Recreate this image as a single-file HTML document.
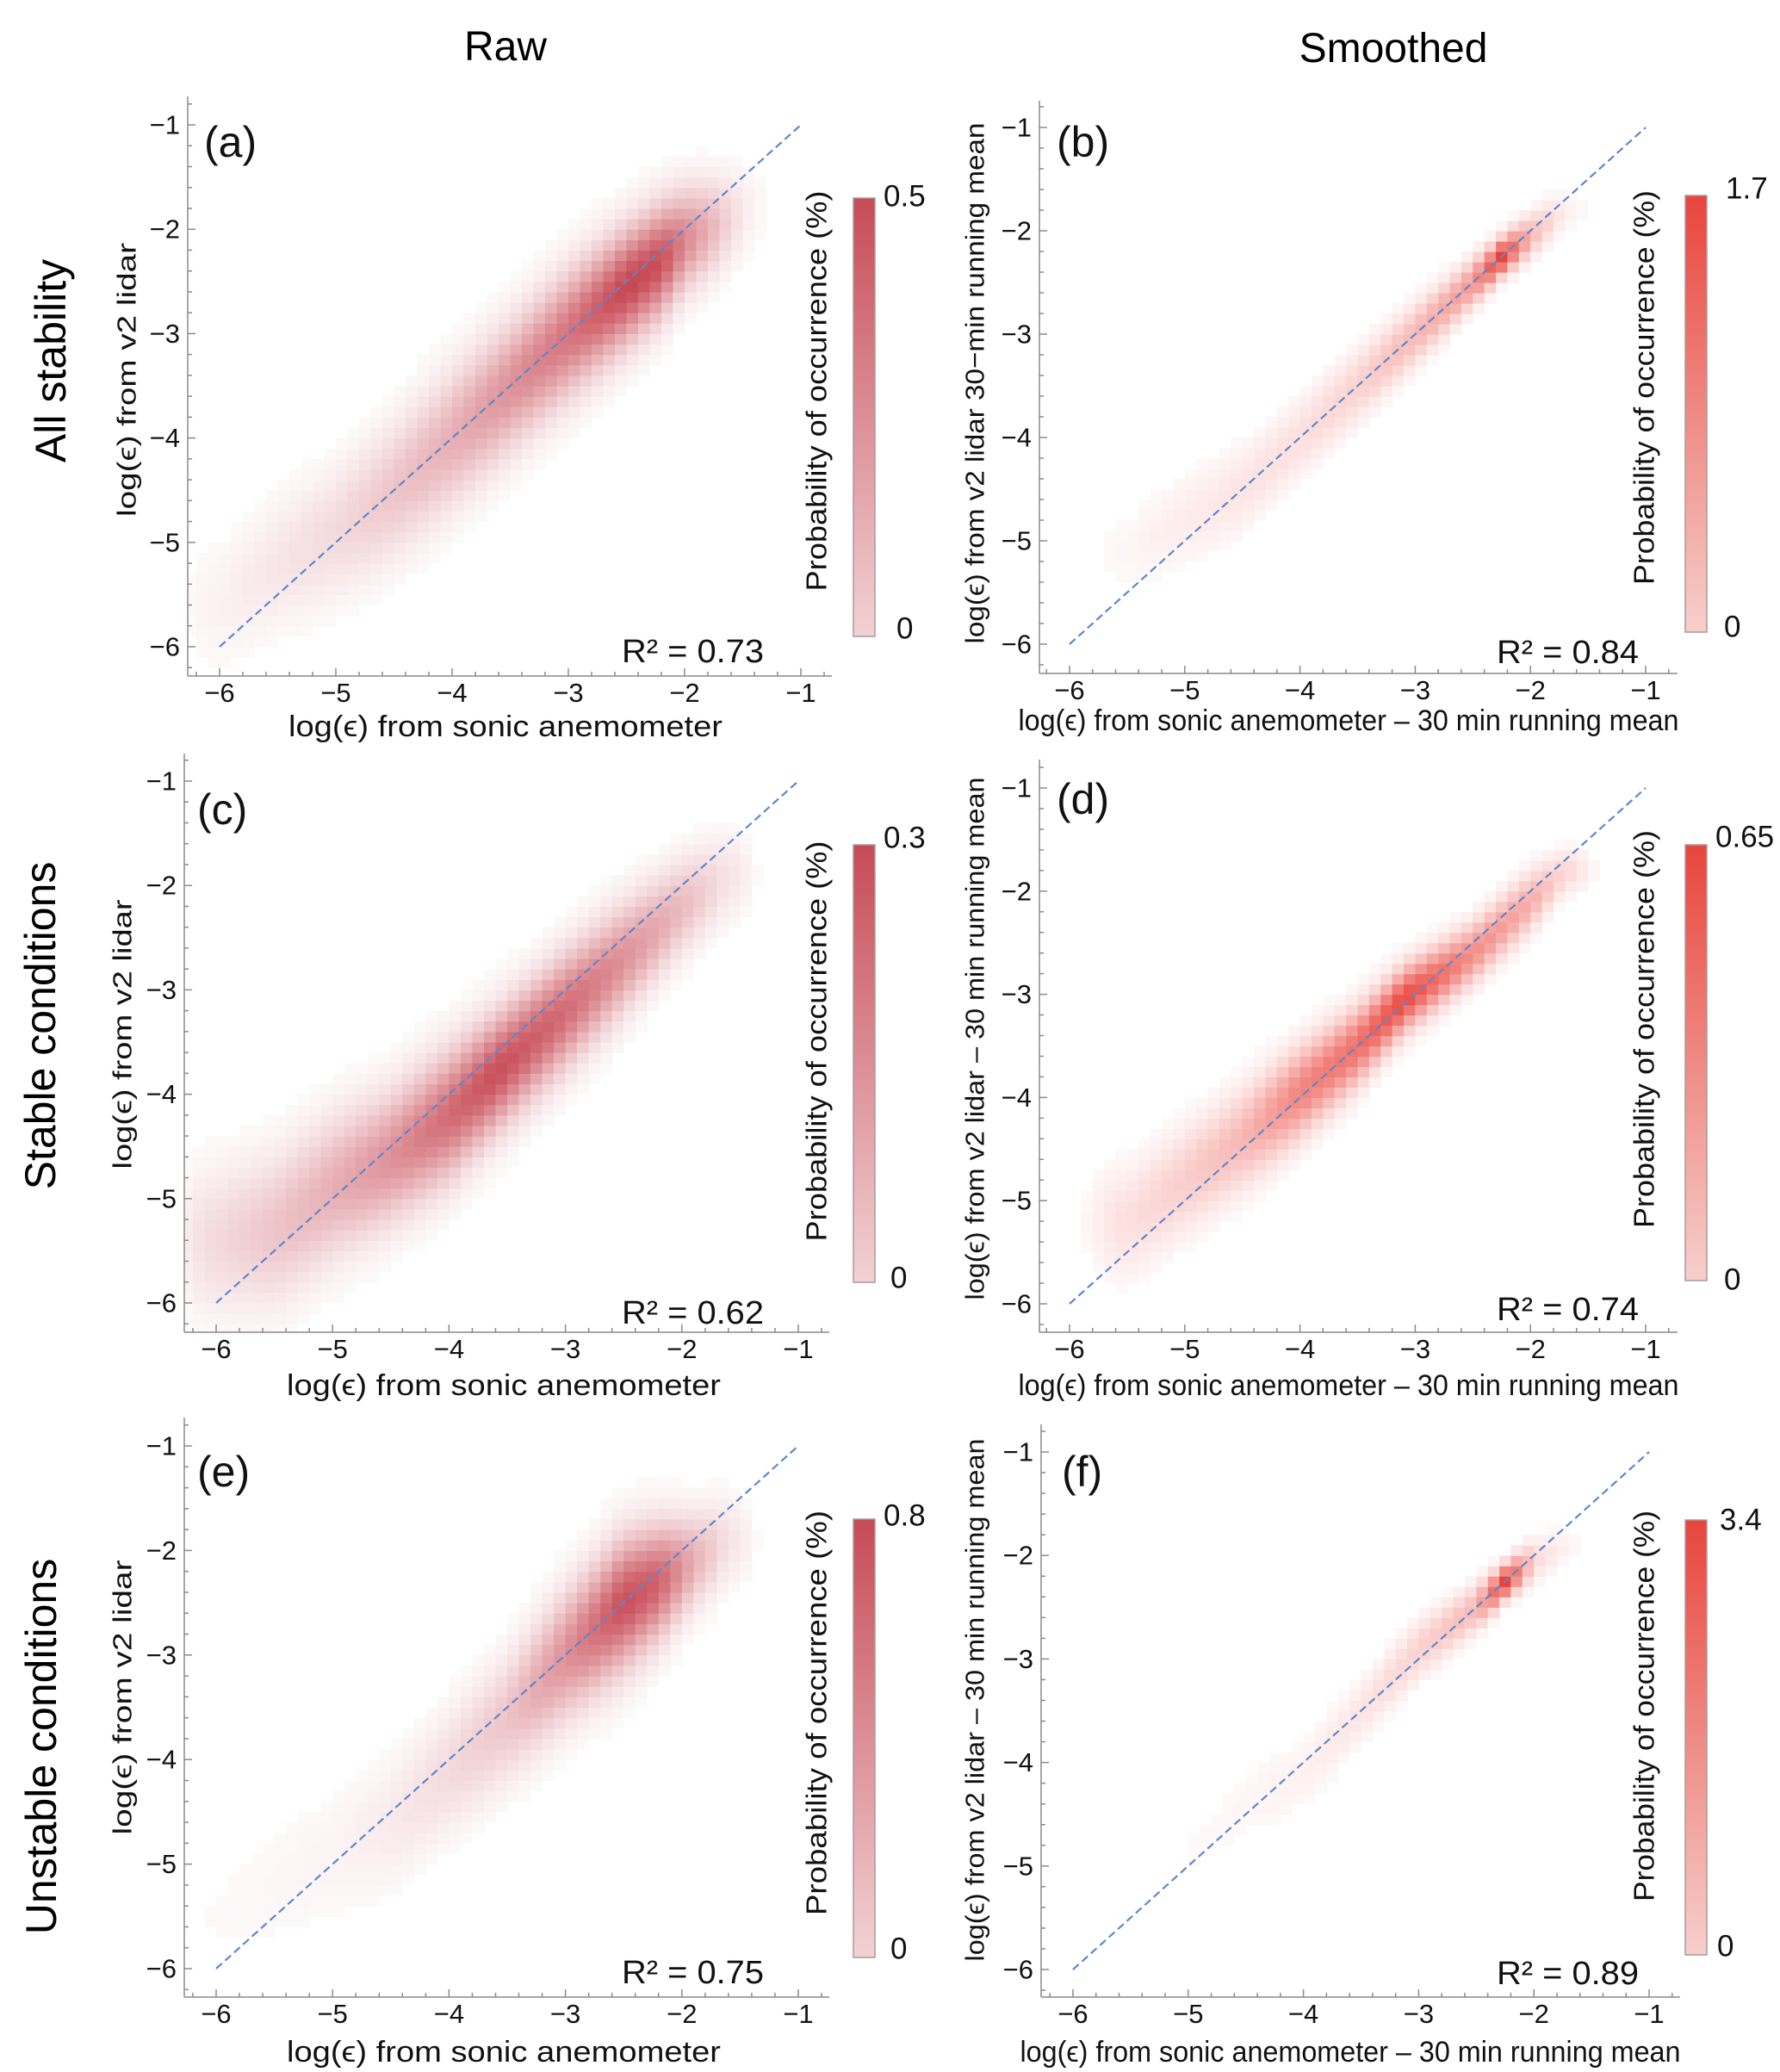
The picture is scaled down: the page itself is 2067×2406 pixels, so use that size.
<!DOCTYPE html>
<html><head><meta charset="utf-8"><title>Lidar vs sonic dissipation heatmaps</title>
<style>
html,body{margin:0;padding:0;background:#fff;}
svg{display:block;font-family:"Liberation Sans","DejaVu Sans",sans-serif;}
</style></head>
<body>
<svg id="fig" xmlns="http://www.w3.org/2000/svg" width="2067" height="2406" viewBox="0 0 2067 2406">
<rect x="0" y="0" width="2067" height="2406" fill="#fff"/>
<text x="587" y="70" font-size="48" text-anchor="middle">Raw</text>
<text x="1618" y="72" font-size="48" text-anchor="middle">Smoothed</text>
<text transform="translate(59,419) rotate(-90)" font-size="50" text-anchor="middle" dominant-baseline="central">All stability</text>
<text transform="translate(47,1191) rotate(-90)" font-size="50" text-anchor="middle" dominant-baseline="central">Stable conditions</text>
<text transform="translate(48,2028) rotate(-90)" font-size="50" text-anchor="middle" dominant-baseline="central">Unstable conditions</text>
<g id="panels"></g>
</svg>
<script>
// ---- data (ridge of each 2D histogram) ----
const ridgeX_a  = [-6.0,-5.5,-5.0,-4.5,-4.0,-3.5,-3.0,-2.5,-2.2,-2.0,-1.6,-1.4];
const ridgeY_a  = [-5.6,-5.2,-4.9,-4.5,-4.0,-3.5,-3.0,-2.55,-2.3,-2.1,-1.9,-1.8];
const ridgeSd_a = [0.40,0.40,0.40,0.40,0.40,0.37,0.36,0.33,0.32,0.30,0.28,0.28];
const ridgeA_a  = [0.05,0.10,0.15,0.25,0.35,0.50,0.65,0.90,0.85,0.55,0.15,0.03];

const ridgeX_b  = [-5.5,-5.0,-4.5,-4.0,-3.5,-3.0,-2.5,-2.25,-2.0,-1.7];
const ridgeY_b  = [-5.1,-4.8,-4.5,-4.0,-3.5,-3.0,-2.5,-2.25,-2.05,-1.8];
const ridgeSd_b = [0.30,0.28,0.27,0.25,0.22,0.18,0.14,0.11,0.13,0.13];
const ridgeA_b  = [0.03,0.07,0.10,0.12,0.18,0.30,0.45,0.90,0.30,0.05];

const ridgeX_c  = [-6.0,-5.5,-5.0,-4.5,-4.0,-3.6,-3.0,-2.5,-2.0,-1.6];
const ridgeY_c  = [-5.4,-5.3,-4.9,-4.6,-4.2,-3.8,-3.2,-2.7,-2.2,-1.9];
const ridgeSd_c = [0.45,0.45,0.42,0.38,0.37,0.33,0.33,0.32,0.28,0.28];
const ridgeA_c  = [0.15,0.25,0.35,0.50,0.70,0.85,0.70,0.50,0.30,0.10];

const ridgeX_d  = [-5.5,-5.0,-4.5,-4.0,-3.5,-3.1,-2.5,-2.0,-1.7];
const ridgeY_d  = [-5.2,-4.8,-4.4,-3.95,-3.5,-3.05,-2.6,-2.1,-1.8];
const ridgeSd_d = [0.35,0.32,0.30,0.27,0.23,0.19,0.18,0.18,0.14];
const ridgeA_d  = [0.12,0.20,0.30,0.55,0.65,0.85,0.50,0.35,0.15];

const ridgeX_e  = [-6.0,-5.0,-4.5,-4.0,-3.5,-3.0,-2.5,-2.2,-1.9,-1.6];
const ridgeY_e  = [-5.5,-4.9,-4.6,-4.1,-3.6,-3.0,-2.5,-2.3,-2.1,-1.9];
const ridgeSd_e = [0.45,0.45,0.40,0.37,0.37,0.37,0.37,0.33,0.28,0.28];
const ridgeA_e  = [0.02,0.04,0.08,0.15,0.25,0.50,0.85,0.75,0.35,0.10];

const ridgeX_f  = [-5.5,-5.0,-4.5,-4.0,-3.5,-3.0,-2.5,-2.25,-2.0,-1.7];
const ridgeY_f  = [-5.2,-4.9,-4.4,-4.1,-3.5,-2.9,-2.5,-2.25,-2.05,-1.9];
const ridgeSd_f = [0.28,0.28,0.27,0.23,0.19,0.18,0.14,0.10,0.13,0.13];
const ridgeA_f  = [0.01,0.02,0.03,0.05,0.10,0.18,0.30,0.90,0.15,0.03];

const xTicks = [-6,-5,-4,-3,-2,-1];
const yTicks = [-6,-5,-4,-3,-2,-1];
const cbMaxLabels = ["0.5","1.7","0.3","0.65","0.8","3.4"];
const r2Labels = ["0.73","0.84","0.62","0.74","0.75","0.89"];
const panelLetters = ["(a)","(b)","(c)","(d)","(e)","(f)"];

// ---- layout ----
const NS = "http://www.w3.org/2000/svg";
const panels = [
 {key:'a', L:218,R:966,T:112,B:785,x6:255,x1:930,y1:145,y6:751,cb:[991,1016,230,739],smooth:false,
  ylab:[147,441,318], cblab:[948,454,465], xlab:[587,855,504], letter:[237,182], r2:[722,769], cbt:[1026,228,1041,730]},
 {key:'b', L:1207,R:1948,T:117,B:782,x6:1242,x1:1911,y1:148,y6:748,cb:[1957,1982,227,734],smooth:true,
  ylab:[1132,445,605], cblab:[1909,450,458], xlab:[1566,848,767], letter:[1227,182], r2:[1738,770], cbt:[2004,219,2002,728]},
 {key:'c', L:214,R:963,T:875,B:1547,x6:251,x1:927,y1:907,y6:1513,cb:[991,1016,981,1489],smooth:false,
  ylab:[142,1201,313], cblab:[948,1209,465], xlab:[585,1620,504], letter:[229,957], r2:[722,1537], cbt:[1026,973,1034,1484]},
 {key:'d', L:1207,R:1948,T:882,B:1547,x6:1242,x1:1911,y1:915,y6:1514,cb:[1957,1982,981,1487],smooth:true,
  ylab:[1132,1206,607], cblab:[1909,1195,462], xlab:[1566,1620,767], letter:[1227,945], r2:[1738,1533], cbt:[1992,972,2002,1486]},
 {key:'e', L:214,R:963,T:1646,B:2319,x6:251,x1:927,y1:1679,y6:2286,cb:[991,1016,1764,2273],smooth:false,
  ylab:[142,1971,319], cblab:[948,1989,470], xlab:[585,2394,504], letter:[229,1726], r2:[722,2303], cbt:[1026,1760,1034,2263]},
 {key:'f', L:1209,R:1951,T:1654,B:2319,x6:1246,x1:1915,y1:1686,y6:2287,cb:[1957,1982,1765,2270],smooth:true,
  ylab:[1132,1974,607], cblab:[1909,1981,454], xlab:[1568,2394,767], letter:[1233,1726], r2:[1738,2304], cbt:[1997,1765,1994,2260]}
];
const ridges = {
 a:[ridgeX_a,ridgeY_a,ridgeSd_a,ridgeA_a], b:[ridgeX_b,ridgeY_b,ridgeSd_b,ridgeA_b],
 c:[ridgeX_c,ridgeY_c,ridgeSd_c,ridgeA_c], d:[ridgeX_d,ridgeY_d,ridgeSd_d,ridgeA_d],
 e:[ridgeX_e,ridgeY_e,ridgeSd_e,ridgeA_e], f:[ridgeX_f,ridgeY_f,ridgeSd_f,ridgeA_f]
};

function mk(tag, attrs, parent){
  const el = document.createElementNS(NS, tag);
  for (const k in attrs) el.setAttribute(k, attrs[k]);
  parent.appendChild(el);
  return el;
}
function interp(xs, vs, x){
  if (x <= xs[0]) return vs[0];
  if (x >= xs[xs.length-1]) return vs[vs.length-1];
  for (let i=0;i<xs.length-1;i++){
    if (x>=xs[i] && x<=xs[i+1]){ const t=(x-xs[i])/(xs[i+1]-xs[i]); return vs[i]+(vs[i+1]-vs[i])*t; }
  }
  return vs[0];
}

const root = document.getElementById('panels');
panels.forEach((p, idx) => {
  const sx = v => p.x6 + (v + 6) * (p.x1 - p.x6) / 5;
  const sy = v => p.y6 - (v + 6) * (p.y6 - p.y1) / 5;
  const g = mk('g', {}, root);
  
  

  const clipId = 'clip-' + p.key;
  const cp = mk('clipPath', {id: clipId}, g);
  mk('rect', {x:p.L, y:p.T, width:p.R-p.L, height:p.B-p.T}, cp);

  const hm = mk('g', {'clip-path': 'url(#' + clipId + ')'}, g);
  
  
  const [rx, ry, rsd, ra] = ridges[p.key];
  const maxC = p.smooth ? [232, 52, 42] : [196, 62, 74];
  const haloK = p.smooth ? 0.03 : 0.06;
  const x0 = rx[0], xN = rx[rx.length-1];
  for (let i = 0; i < 56; i++) {
    const xl = -6.3 + i * 0.1, xc = xl + 0.05;
    let amp = interp(rx, ra, xc);
    if (xc < x0) amp *= Math.exp(-Math.pow((x0 - xc) / 0.3, 2));
    if (xc > xN) amp *= Math.exp(-Math.pow((xc - xN) / 0.2, 2));
    const my = interp(rx, ry, xc), sd = interp(rx, rsd, xc);
    for (let j = 0; j < 57; j++) {
      const yl = -6.3 + j * 0.1, yc = yl + 0.05;
      const d = yc - my;
      let v = amp * Math.exp(-d*d/(2*sd*sd)) + haloK * amp * Math.exp(-d*d/(2*Math.pow(1.8*sd,2)));
      if (v < 0.02) continue;
      v = Math.min(1, v);
      const f = Math.pow(v, 0.9);
      const col = 'rgb(' + maxC.map(c => Math.round(255 - (255 - c) * f)).join(',') + ')';
      const x1 = sx(xl), x2 = sx(xl + 0.1), y1 = sy(yl + 0.1), y2 = sy(yl);
      const r = mk('rect', {x:x1.toFixed(1), y:y1.toFixed(1), width:(x2-x1+0.6).toFixed(1), height:(y2-y1+0.6).toFixed(1), fill:col}, hm);
      
      
    }
  }

  const ln = mk('line', {x1:sx(-6), y1:sy(-6), x2:sx(-1), y2:sy(-1), stroke:'#5f86cc', 'stroke-width':2.2, 'stroke-dasharray':'9 5'}, g);
  
  

  const ax = mk('g', {stroke:'#8a8a8a', 'stroke-width':1.5, fill:'none'}, g);
  
  
  mk('line', {x1:p.L, y1:p.B, x2:p.R, y2:p.B}, ax);
  mk('line', {x1:p.L, y1:p.T, x2:p.L, y2:p.B}, ax);
  for (let k = -31; k <= -4; k++) {
    const v = k * 0.2; const major = Math.abs(v - Math.round(v)) < 1e-6;
    const X = sx(v); if (X >= p.L && X <= p.R) mk('line', {x1:X, y1:p.B, x2:X, y2:p.B - (major ? 9 : 5)}, ax);
    const Y = sy(v); if (Y >= p.T && Y <= p.B) mk('line', {x1:p.L, y1:Y, x2:p.L + (major ? 9 : 5), y2:Y}, ax);
  }
  xTicks.forEach(t => {
    const tx = mk('text', {x:sx(t), y:p.B + 30, 'font-size':31, 'text-anchor':'middle', fill:'#111'}, g);
    
    
    tx.textContent = '\u2212' + Math.abs(t);
  });
  yTicks.forEach(t => {
    const ty = mk('text', {x:p.L - 9, y:sy(t), 'font-size':31, 'text-anchor':'end', 'dominant-baseline':'central', fill:'#111'}, g);
    
    
    ty.textContent = '\u2212' + Math.abs(t);
  });

  const xl = mk('text', {x:p.xlab[0], y:p.xlab[1], 'font-size':34, 'text-anchor':'middle', textLength:p.xlab[2], lengthAdjust:'spacingAndGlyphs', fill:'#111'}, g);
  
  
  xl.textContent = p.smooth ? 'log(\u03F5) from sonic anemometer \u2013 30  min running mean' : 'log(\u03F5) from sonic anemometer';
  const yl = mk('text', {transform:'translate(' + p.ylab[0] + ',' + p.ylab[1] + ') rotate(-90)', 'font-size':31, 'text-anchor':'middle', 'dominant-baseline':'central', textLength:p.ylab[2], lengthAdjust:'spacingAndGlyphs', fill:'#111'}, g);
  
  
  yl.textContent = !p.smooth ? 'log(\u03F5) from v2 lidar' : (p.key === 'b' ? 'log(\u03F5) from v2 lidar    30\u2212min running mean' : 'log(\u03F5) from v2 lidar \u2013 30  min running mean');

  const lt = mk('text', {x:p.letter[0], y:p.letter[1], 'font-size':50, fill:'#111'}, g);
  
  
  lt.textContent = panelLetters[idx];
  const r2 = mk('text', {x:p.r2[0], y:p.r2[1], 'font-size':38, fill:'#111', textLength:165, lengthAdjust:'spacingAndGlyphs'}, g);
  
  
  r2.textContent = 'R\u00B2 = ' + r2Labels[idx];

  const gid = 'grad-' + p.key;
  const lg = mk('linearGradient', {id:gid, x1:0, y1:1, x2:0, y2:0}, g);
  mk('stop', {offset:0, 'stop-color': p.smooth ? '#f6cfcc' : '#f1d2d4'}, lg);
  mk('stop', {offset:1, 'stop-color': p.smooth ? '#e8453c' : '#c64b57'}, lg);
  const cb = mk('rect', {x:p.cb[0], y:p.cb[2], width:p.cb[1]-p.cb[0], height:p.cb[3]-p.cb[2], fill:'url(#' + gid + ')', stroke:'#a99', 'stroke-width':1.5}, g);
  
  
  const cmax = mk('text', {x:p.cbt[0], y:p.cbt[1], 'font-size':35, 'dominant-baseline':'central', fill:'#111'}, g);
  
  
  cmax.textContent = cbMaxLabels[idx];
  const cmin = mk('text', {x:p.cbt[2], y:p.cbt[3], 'font-size':35, 'dominant-baseline':'central', fill:'#111'}, g);
  
  
  cmin.textContent = '0';
  const cl = mk('text', {transform:'translate(' + p.cblab[0] + ',' + p.cblab[1] + ') rotate(-90)', 'font-size':33, 'text-anchor':'middle', 'dominant-baseline':'central', textLength:p.cblab[2], lengthAdjust:'spacingAndGlyphs', fill:'#111'}, g);
  
  
  cl.textContent = 'Probability of occurrence (%)';
});
</script>
</body></html>
